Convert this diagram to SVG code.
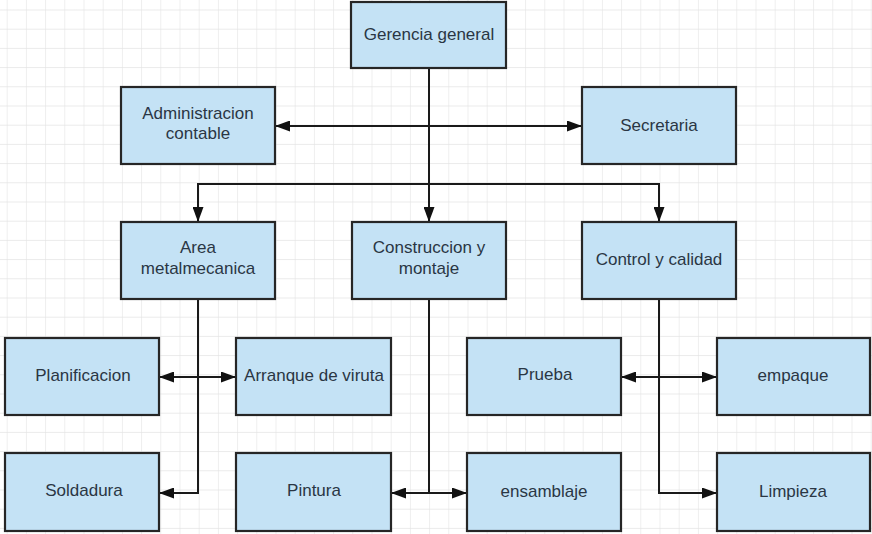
<svg xmlns="http://www.w3.org/2000/svg" width="872" height="534" viewBox="0 0 872 534">
  <defs>
    <pattern id="grid" patternUnits="userSpaceOnUse" x="6.7" y="9.5" width="19.2" height="19.2">
      <path d="M0 0 H19.2 M0 0 V19.2" fill="none" stroke="#e4e4e4" stroke-width="1.2"/>
    </pattern>
    <marker id="arr" markerUnits="userSpaceOnUse" markerWidth="15" markerHeight="11" refX="15" refY="5.5" orient="auto-start-reverse">
      <path d="M0 0 L15 5.5 L0 11 Z" fill="#111"/>
    </marker>
  </defs>
  <style>
    .box { fill: #c4e2f5; stroke: #262626; stroke-width: 2.2; }
    .lbl { font-family: "Liberation Sans", Arial, sans-serif; font-size: 17px; fill: #2a3644; text-anchor: middle; }
    .conn { fill: none; stroke: #1a1a1a; stroke-width: 2; }
  </style>
  <rect x="0" y="0" width="872" height="534" fill="#ffffff"/>
  <rect x="0" y="0" width="872" height="534" fill="url(#grid)"/>

  <g id="connectors">
    <path class="conn" d="M429 68 V222" marker-end="url(#arr)"/>
    <path class="conn" d="M198 222 V184 H659 V222" marker-start="url(#arr)" marker-end="url(#arr)"/>
    <path class="conn" d="M275 126 H582" marker-start="url(#arr)" marker-end="url(#arr)"/>
    <path class="conn" d="M198 299 V493 H159" marker-end="url(#arr)"/>
    <path class="conn" d="M159 377 H236" marker-start="url(#arr)" marker-end="url(#arr)"/>
    <path class="conn" d="M429 299 V493"/>
    <path class="conn" d="M391 493 H467" marker-start="url(#arr)" marker-end="url(#arr)"/>
    <path class="conn" d="M659 299 V493 H717" marker-end="url(#arr)"/>
    <path class="conn" d="M621 377 H717" marker-start="url(#arr)" marker-end="url(#arr)"/>
  </g>

  <g id="gerencia">
    <rect class="box" x="351" y="2" width="155" height="66"/>
    <text class="lbl" x="429" y="40">Gerencia general</text>
  </g>
  <g id="administracion">
    <rect class="box" x="121" y="87" width="154" height="77"/>
    <text class="lbl" x="198" y="119">Administracion</text>
    <text class="lbl" x="198" y="139">contable</text>
  </g>
  <g id="secretaria">
    <rect class="box" x="582" y="87" width="154" height="77"/>
    <text class="lbl" x="659" y="131">Secretaria</text>
  </g>
  <g id="area">
    <rect class="box" x="121" y="222" width="154" height="77"/>
    <text class="lbl" x="198" y="253">Area</text>
    <text class="lbl" x="198" y="274">metalmecanica</text>
  </g>
  <g id="construccion">
    <rect class="box" x="352" y="222" width="154" height="77"/>
    <text class="lbl" x="429" y="253">Construccion y</text>
    <text class="lbl" x="429" y="274">montaje</text>
  </g>
  <g id="control">
    <rect class="box" x="582" y="222" width="154" height="77"/>
    <text class="lbl" x="659" y="265">Control y calidad</text>
  </g>
  <g id="planificacion">
    <rect class="box" x="5" y="338" width="154" height="77"/>
    <text class="lbl" x="83" y="381">Planificacion</text>
  </g>
  <g id="arranque">
    <rect class="box" x="236" y="338" width="155" height="77"/>
    <text class="lbl" x="314" y="381">Arranque de viruta</text>
  </g>
  <g id="soldadura">
    <rect class="box" x="5" y="453" width="154" height="78"/>
    <text class="lbl" x="84" y="496">Soldadura</text>
  </g>
  <g id="pintura">
    <rect class="box" x="236" y="453" width="155" height="78"/>
    <text class="lbl" x="314" y="496">Pintura</text>
  </g>
  <g id="prueba">
    <rect class="box" x="467" y="338" width="154" height="77"/>
    <text class="lbl" x="545" y="380">Prueba</text>
  </g>
  <g id="empaque">
    <rect class="box" x="717" y="338" width="153" height="77"/>
    <text class="lbl" x="793" y="381">empaque</text>
  </g>
  <g id="ensamblaje">
    <rect class="box" x="467" y="453" width="154" height="78"/>
    <text class="lbl" x="544" y="497">ensamblaje</text>
  </g>
  <g id="limpieza">
    <rect class="box" x="717" y="453" width="153" height="78"/>
    <text class="lbl" x="793" y="497">Limpieza</text>
  </g>
</svg>
